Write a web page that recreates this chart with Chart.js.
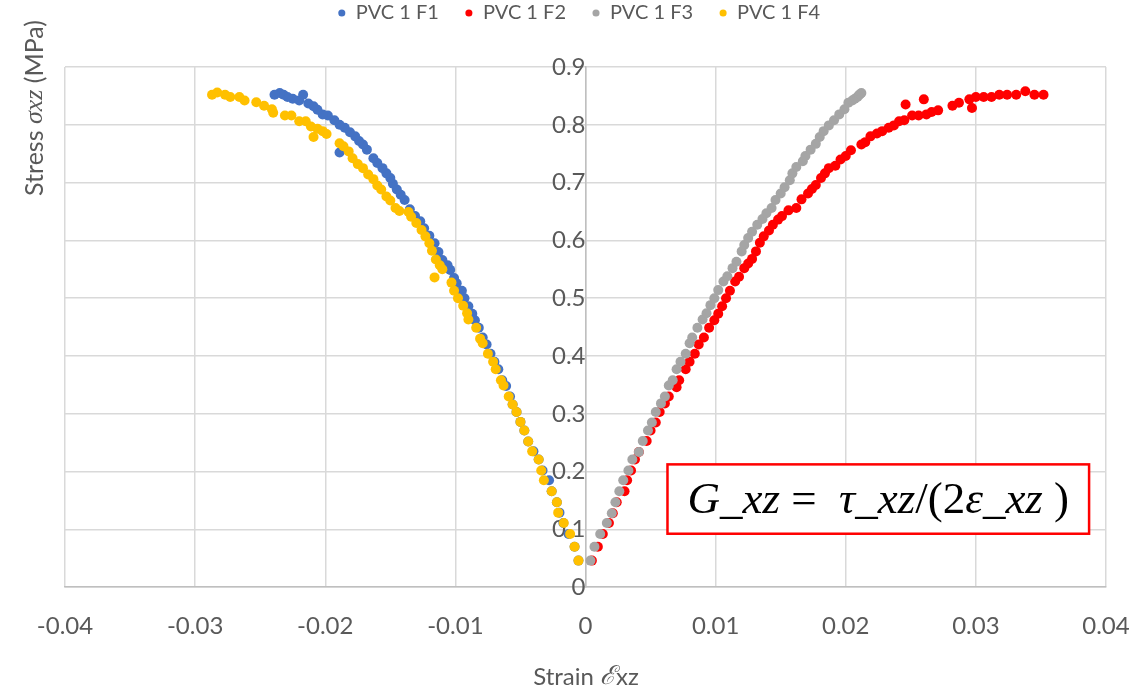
<!DOCTYPE html>
<html>
<head>
<meta charset="utf-8">
<script src="https://cdn.jsdelivr.net/npm/chart.js@4.4.1/dist/chart.umd.min.js"></script>
<style>
  html, body { margin: 0; padding: 0; background: #fff; }
  #wrap { width: 1147px; height: 692px; }
</style>
</head>
<body>
<div id="wrap"><canvas id="chart-1"></canvas></div>
<script>
// series values (strain, stress in MPa)
var f1Strain = [-0.00054, -0.00084, -0.0013, -0.0017, -0.0020, -0.0022, -0.0026, -0.0028, -0.0033, -0.0036,
    -0.0040, -0.0044, -0.0047, -0.0050, -0.0053, -0.0056, -0.0058, -0.0061, -0.0064, -0.0067,
    -0.0070, -0.0073, -0.0076, -0.0079, -0.0082, -0.0085, -0.0087, -0.0090, -0.0093, -0.0095,
    -0.0099, -0.0101, -0.0104, -0.0106, -0.0110, -0.0113, -0.0116, -0.0120, -0.0124, -0.0127,
    -0.0131, -0.0135, -0.0139, -0.0142, -0.0145, -0.0148, -0.0150, -0.0153, -0.0156, -0.0160,
    -0.0163, -0.0168, -0.0171, -0.0174, -0.0177, -0.0181, -0.0185, -0.0189, -0.0189, -0.0193,
    -0.0198, -0.0202, -0.0206, -0.0209, -0.0213, -0.0217, -0.0220, -0.0225, -0.0229, -0.0232,
    -0.0235, -0.0239];
var f1Stress = [0.046, 0.070, 0.092, 0.111, 0.129, 0.147, 0.166, 0.185, 0.202, 0.221,
    0.235, 0.252, 0.271, 0.286, 0.303, 0.316, 0.330, 0.348, 0.358, 0.377,
    0.390, 0.404, 0.420, 0.432, 0.449, 0.462, 0.473, 0.486, 0.500, 0.513,
    0.526, 0.535, 0.549, 0.557, 0.566, 0.580, 0.595, 0.608, 0.621, 0.633,
    0.642, 0.654, 0.670, 0.679, 0.688, 0.698, 0.708, 0.716, 0.725, 0.734,
    0.742, 0.757, 0.766, 0.772, 0.780, 0.787, 0.795, 0.752, 0.800, 0.808,
    0.816, 0.818, 0.826, 0.832, 0.837, 0.852, 0.842, 0.845, 0.848, 0.852,
    0.855, 0.852];

var f2Strain = [0.00049, 0.00095, 0.00133, 0.0018, 0.0021, 0.0024, 0.0030, 0.0032, 0.0035, 0.0038,
    0.0041, 0.0047, 0.0050, 0.0054, 0.0057, 0.0061, 0.0064, 0.0070, 0.0072, 0.0077,
    0.0080, 0.0084, 0.0087, 0.0091, 0.0095, 0.0099, 0.0102, 0.0105, 0.0108, 0.0111,
    0.0115, 0.0118, 0.0122, 0.0125, 0.0128, 0.0131, 0.0134, 0.0137, 0.0141, 0.0144,
    0.0148, 0.0151, 0.0156, 0.0162, 0.0166, 0.0171, 0.0174, 0.0177, 0.0181, 0.0184,
    0.0187, 0.0192, 0.0196, 0.0200, 0.0204, 0.0212, 0.0215, 0.0219, 0.0224, 0.0228,
    0.0233, 0.0237, 0.0241, 0.0245, 0.0246, 0.0251, 0.0256, 0.0260, 0.0262, 0.0266,
    0.0271, 0.0282, 0.0287, 0.0295, 0.0297, 0.0300, 0.0306, 0.0312, 0.0318, 0.0324,
    0.0331, 0.0338, 0.0345, 0.0352];
var f2Stress = [0.046, 0.070, 0.092, 0.111, 0.128, 0.147, 0.166, 0.185, 0.202, 0.221,
    0.234, 0.253, 0.271, 0.285, 0.303, 0.318, 0.330, 0.346, 0.358, 0.377,
    0.390, 0.404, 0.420, 0.432, 0.449, 0.462, 0.473, 0.486, 0.500, 0.513,
    0.529, 0.537, 0.552, 0.560, 0.568, 0.581, 0.596, 0.607, 0.617, 0.627,
    0.636, 0.642, 0.652, 0.656, 0.671, 0.681, 0.689, 0.696, 0.708, 0.716,
    0.725, 0.729, 0.740, 0.746, 0.756, 0.766, 0.770, 0.780, 0.785, 0.789,
    0.795, 0.799, 0.806, 0.808, 0.835, 0.816, 0.816, 0.844, 0.818, 0.822,
    0.825, 0.833, 0.838, 0.844, 0.829, 0.848, 0.848, 0.848, 0.852, 0.852,
    0.852, 0.858, 0.852, 0.852];

var f3Strain = [0.00038, 0.00069, 0.00113, 0.00164, 0.00202, 0.0023, 0.0026, 0.0029, 0.0033, 0.0036,
    0.0041, 0.0044, 0.0048, 0.0051, 0.0054, 0.0058, 0.0061, 0.0064, 0.0067, 0.0070,
    0.0073, 0.0077, 0.0080, 0.0082, 0.0086, 0.0090, 0.0093, 0.0096, 0.0099, 0.0102,
    0.0106, 0.0109, 0.0113, 0.0116, 0.0120, 0.0122, 0.0125, 0.0128, 0.0132, 0.0136,
    0.0139, 0.0143, 0.0146, 0.0150, 0.0153, 0.0157, 0.0159, 0.0162, 0.0167, 0.0169,
    0.0173, 0.0177, 0.0180, 0.0183, 0.0187, 0.0191, 0.0195, 0.0199, 0.0202, 0.0205,
    0.0207, 0.0209, 0.0210, 0.0211, 0.0212];
var f3Stress = [0.046, 0.070, 0.092, 0.111, 0.128, 0.147, 0.166, 0.185, 0.202, 0.221,
    0.234, 0.253, 0.271, 0.285, 0.303, 0.318, 0.330, 0.349, 0.358, 0.377,
    0.390, 0.404, 0.422, 0.432, 0.449, 0.463, 0.474, 0.488, 0.500, 0.514,
    0.529, 0.538, 0.552, 0.563, 0.581, 0.592, 0.604, 0.615, 0.627, 0.637,
    0.647, 0.656, 0.670, 0.681, 0.692, 0.704, 0.716, 0.727, 0.737, 0.746,
    0.757, 0.767, 0.779, 0.789, 0.799, 0.808, 0.818, 0.827, 0.838, 0.842,
    0.845, 0.848, 0.851, 0.853, 0.855];

var f4Strain = [-0.00054, -0.00084, -0.00118, -0.00167, -0.0021, -0.0022, -0.0026, -0.0032, -0.0034, -0.0036,
    -0.0041, -0.0044, -0.0047, -0.0050, -0.0053, -0.0056, -0.0059, -0.0063, -0.0065, -0.0069,
    -0.0071, -0.0075, -0.0079, -0.0081, -0.0084, -0.0090, -0.0091, -0.0094, -0.0098, -0.0101,
    -0.0103, -0.0116, -0.0110, -0.0112, -0.0115, -0.0118, -0.0120, -0.0123, -0.0126, -0.0130,
    -0.0134, -0.0136, -0.0143, -0.0146, -0.0150, -0.0153, -0.0157, -0.0160, -0.0163, -0.0167,
    -0.0171, -0.0175, -0.0179, -0.0182, -0.0186, -0.0189, -0.0199, -0.0202, -0.0206, -0.0209,
    -0.0211, -0.0215, -0.0220, -0.0226, -0.0231, -0.0240, -0.0241, -0.0247, -0.0253, -0.0262,
    -0.0266, -0.0273, -0.0277, -0.0283, -0.0287];
var f4Stress = [0.046, 0.070, 0.092, 0.111, 0.129, 0.147, 0.166, 0.185, 0.202, 0.221,
    0.235, 0.252, 0.271, 0.286, 0.303, 0.316, 0.330, 0.349, 0.358, 0.377,
    0.390, 0.404, 0.422, 0.430, 0.449, 0.463, 0.474, 0.487, 0.500, 0.513,
    0.527, 0.536, 0.550, 0.557, 0.567, 0.582, 0.595, 0.607, 0.618, 0.630,
    0.641, 0.649, 0.651, 0.656, 0.669, 0.676, 0.688, 0.695, 0.706, 0.714,
    0.725, 0.732, 0.742, 0.754, 0.763, 0.768, 0.784, 0.789, 0.793, 0.779,
    0.797, 0.806, 0.806, 0.816, 0.816, 0.821, 0.827, 0.833, 0.839, 0.842,
    0.848, 0.848, 0.852, 0.856, 0.852];

var seriesNames = ['PVC 1 F1', 'PVC 1 F2', 'PVC 1 F3', 'PVC 1 F4'];
var seriesColors = ['#4472C4', '#FF0000', '#A5A5A5', '#FFC000'];
var xTicks = [-0.04, -0.03, -0.02, -0.01, 0, 0.01, 0.02, 0.03, 0.04];
var yTicks = [0, 0.1, 0.2, 0.3, 0.4, 0.5, 0.6, 0.7, 0.8, 0.9];

function toPoints(xs, ys) {
    return xs.map(function (x, i) { return { x: x, y: ys[i] }; });
}

var textGrey = '#595959';

// draws a line of text made of parts with different fonts
function drawParts(ctx, parts, cx, cy) {
    var total = 0;
    parts.forEach(function (p) { ctx.font = p[1]; total += ctx.measureText(p[0]).width; });
    var x = cx - total / 2;
    parts.forEach(function (p) {
        ctx.font = p[1];
        ctx.fillText(p[0], x, cy);
        x += ctx.measureText(p[0]).width;
    });
}

// legend sits high with wide gaps between items, keep the plot top where it is
var legendSpace = {
    id: 'legendSpace',
    beforeInit: function (chart) {
        var fit = chart.legend.fit;
        chart.legend.fit = function () {
            fit.call(this);
            this.height = 90;
        };
    },
    afterLayout: function (chart) {
        // nudge the legend a bit left of the canvas centre
        chart.legend.right -= 13;
    }
};

var extras = {
    id: 'extras',
    afterDatasetsDraw: function (chart) {
        var ctx = chart.ctx;
        var xs = chart.scales.x, ys = chart.scales.y;
        // formula box
        var l = xs.getPixelForValue(0.0063), r = xs.getPixelForValue(0.0387);
        var t = ys.getPixelForValue(0.2125), b = ys.getPixelForValue(0.0925);
        ctx.save();
        ctx.fillStyle = '#fff';
        ctx.fillRect(l, t, r - l, b - t);
        ctx.strokeStyle = '#FF0000';
        ctx.lineWidth = 2.5;
        ctx.strokeRect(l, t, r - l, b - t);
        ctx.fillStyle = '#000';
        ctx.textBaseline = 'alphabetic';
        var it = 'italic 45px "Liberation Serif"', up = '45px "Liberation Serif"';
        drawParts(ctx, [['G', it], ['_', up], ['xz', it], [' =  ', up], ['\u03C4', it], ['_', up], ['xz', it],
            ['/(2', up], ['\u03B5', it], ['_', up], ['xz', it], [' )', up]], (l + r) / 2, (t + b) / 2 + 14);
        ctx.restore();
    },
    afterDraw: function (chart) {
        var ctx = chart.ctx;
        ctx.save();
        ctx.fillStyle = textGrey;
        ctx.textBaseline = 'middle';
        // y axis title
        ctx.translate(35, 108);
        ctx.rotate(-Math.PI / 2);
        drawParts(ctx, [['Stress ', '25px Lato'], ['\u03C3xz', 'italic 26px "Liberation Serif"'], [' (MPa)', '25px Lato']], 0, 0);
        ctx.restore();
        ctx.save();
        ctx.fillStyle = textGrey;
        ctx.textBaseline = 'middle';
        drawParts(ctx, [['Strain ', '24px Lato'], ['\u2130', 'italic 26px "DejaVu Serif"'], ['xz', '24px Lato']], 586, 677);
        ctx.restore();
    }
};

drawChart();
function drawChart() {
    var ctx = document.getElementById('chart-1');
    var strains = [f1Strain, f2Strain, f3Strain, f4Strain];
    var stresses = [f1Stress, f2Stress, f3Stress, f4Stress];
    var drawOrder = [4, 3, 2, 1];

    var datasets = seriesNames.map(function (name, i) {
        return {
            label: name,
            data: toPoints(strains[i], stresses[i]),
            backgroundColor: seriesColors[i],
            borderColor: seriesColors[i],
            borderWidth: 0,
            pointRadius: 5,
            pointHoverRadius: 5,
            pointStyle: 'circle',
            order: drawOrder[i]
        };
    });

    var fmt = function (v) { return String(parseFloat(Number(v).toFixed(3))); };

    new Chart(ctx, {
        type: 'scatter',
        data: { datasets: datasets },
        plugins: [legendSpace, extras],
        options: {
            responsive: true,
            maintainAspectRatio: false,
            animation: false,
            layout: { padding: { left: 65, right: 41, top: -23, bottom: 48 } },
            plugins: {
                legend: {
                    display: true,
                    position: 'top',
                    labels: {
                        usePointStyle: true,
                        boxWidth: 8,
                        boxHeight: 5,
                        padding: 26,
                        color: textGrey,
                        font: { family: 'Lato', size: 20 },
                        sort: function (a, b) { return a.datasetIndex - b.datasetIndex; }
                    }
                },
                tooltip: { enabled: false }
            },
            scales: {
                x: {
                    type: 'linear',
                    min: xTicks[0],
                    max: xTicks[xTicks.length - 1],
                    afterBuildTicks: function (axis) { axis.ticks = xTicks.map(function (v) { return { value: v }; }); },
                    grid: { color: '#d9d9d9', lineWidth: 1.5, drawTicks: true, tickLength: 22, tickColor: 'rgba(0,0,0,0)' },
                    border: { color: '#bfbfbf', width: 1.5 },
                    ticks: { color: textGrey, font: { family: 'Lato', size: 24 }, padding: 3, callback: fmt }
                },
                y: {
                    type: 'linear',
                    position: { x: 0 },
                    min: yTicks[0],
                    max: yTicks[yTicks.length - 1],
                    afterBuildTicks: function (axis) { axis.ticks = yTicks.map(function (v) { return { value: v }; }); },
                    grid: { color: '#d9d9d9', lineWidth: 1.5, drawTicks: false },
                    border: { color: '#bfbfbf', width: 1.5 },
                    ticks: { color: textGrey, font: { family: 'Lato', size: 24 }, padding: 27, callback: fmt }
                }
            }
        }
    });
}
</script>
</body>
</html>
